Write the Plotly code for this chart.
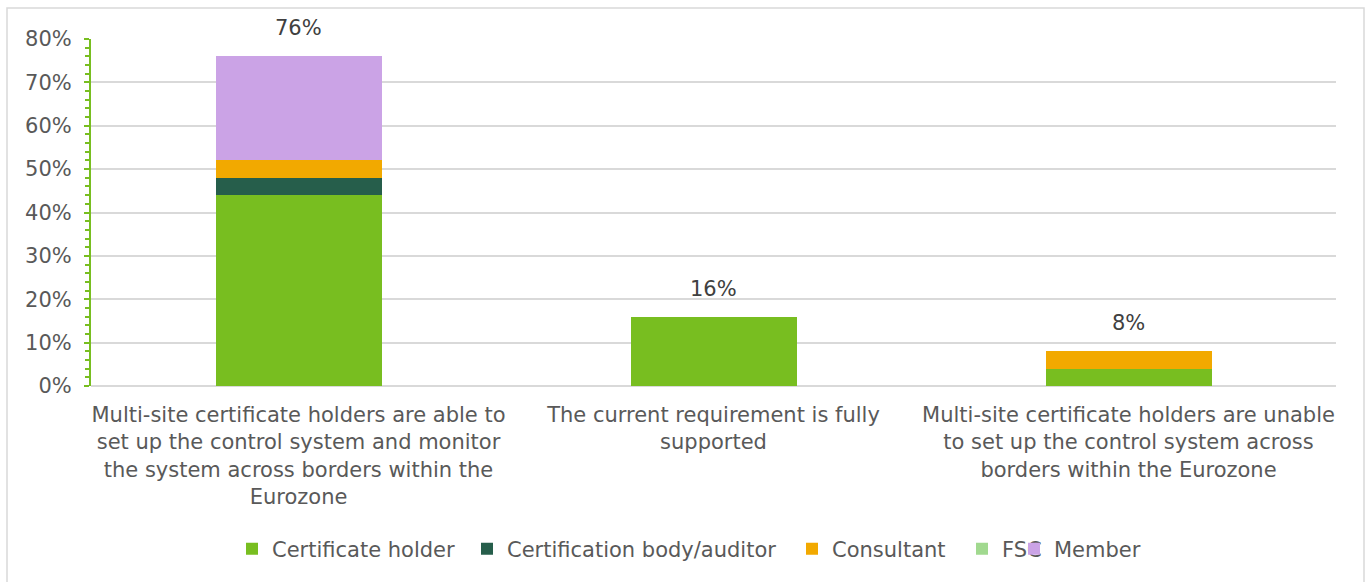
import plotly.graph_objects as go

# Response categories (x-axis labels, wrapped)
categories = [
    "Multi-site certificate holders are able to<br>set up the control system and monitor<br>the system across borders within the<br>Eurozone",
    "The current requirement is fully<br>supported",
    "Multi-site certificate holders are unable<br>to set up the control system across<br>borders within the Eurozone",
]

# Share of respondents by stakeholder group
certificate_holder = [0.44, 0.16, 0.04]
certification_body = [0.04, 0.00, 0.00]
consultant = [0.04, 0.00, 0.04]
fsc = [0.00, 0.00, 0.00]
member = [0.24, 0.00, 0.00]

series_names = ["Certificate holder", "Certification body/auditor", "Consultant", "FSC", "Member"]
series_values = [certificate_holder, certification_body, consultant, fsc, member]
series_colors = ["#78BE20", "#265E4B", "#F2A900", "#A1D98F", "#CBA3E6"]

# left edge (px) of each legend swatch
legend_px = [245, 480, 805, 975, 1027]

totals = [sum(v) for v in zip(*series_values)]

FONT = "DejaVu Sans"
GREEN = "#78BE20"
W, H = 1368, 582
L, R, T, B = 91, 32, 39, 196
PW, PH = W - L - R, H - T - B

fig = go.Figure()
legend_layouts = {}
for i, (name, vals, color, lx) in enumerate(zip(series_names, series_values, series_colors, legend_px)):
    key = "legend" if i == 0 else f"legend{i + 1}"
    fig.add_trace(go.Bar(
        name=name, x=categories, y=vals, marker_color=color,
        marker_line_width=0, legend=key, hoverinfo="skip",
    ))
    legend_layouts[key] = dict(
        orientation="h", x=(lx - 13 - L) / PW, xanchor="left",
        y=(T + PH - 549) / PH, yanchor="middle",
        font=dict(family=FONT, size=21, color="#595959"),
        bgcolor="rgba(0,0,0,0)",
    )

for cat, tot in zip(categories, totals):
    fig.add_annotation(
        x=cat, y=tot, text=f"{tot:.0%}", showarrow=False,
        yanchor="bottom", yshift=14,
        font=dict(family=FONT, size=21, color="#404040"),
    )

# light frame around the whole chart
fig.add_shape(
    type="rect", xref="paper", yref="paper",
    x0=(7 - L) / PW, x1=(1364 - L) / PW,
    y0=(T + PH - 600) / PH, y1=(T + PH - 8) / PH,
    line=dict(color="#D9D9D9", width=1.5), fillcolor="rgba(0,0,0,0)",
    layer="below",
)

fig.update_layout(
    width=W, height=H,
    margin=dict(l=L, r=R, t=T, b=B, pad=0),
    barmode="stack", bargap=0.6,
    plot_bgcolor="white", paper_bgcolor="white",
    font=dict(family=FONT, size=21, color="#595959"),
    showlegend=True,
    **legend_layouts,
)

fig.update_xaxes(
    showline=False, showgrid=False, ticks="",
    tickfont=dict(family=FONT, size=21, color="#595959"),
    ticklabelstandoff=14,
)
fig.update_yaxes(
    range=[0, 0.8], dtick=0.1, tickformat=".0%",
    showgrid=True, gridcolor="#D9D9D9", gridwidth=1.5,
    zeroline=True, zerolinecolor="#D9D9D9", zerolinewidth=1.5,
    showline=True, linecolor=GREEN, linewidth=2,
    ticks="outside", ticklen=5, tickcolor=GREEN, tickwidth=1.5,
    minor=dict(dtick=0.02, ticks="outside", ticklen=4, tickcolor=GREEN,
               tickwidth=1.5, showgrid=False),
    tickfont=dict(family=FONT, size=21, color="#595959"),
    ticklabelstandoff=8,
)

fig.write_html("out.html")
